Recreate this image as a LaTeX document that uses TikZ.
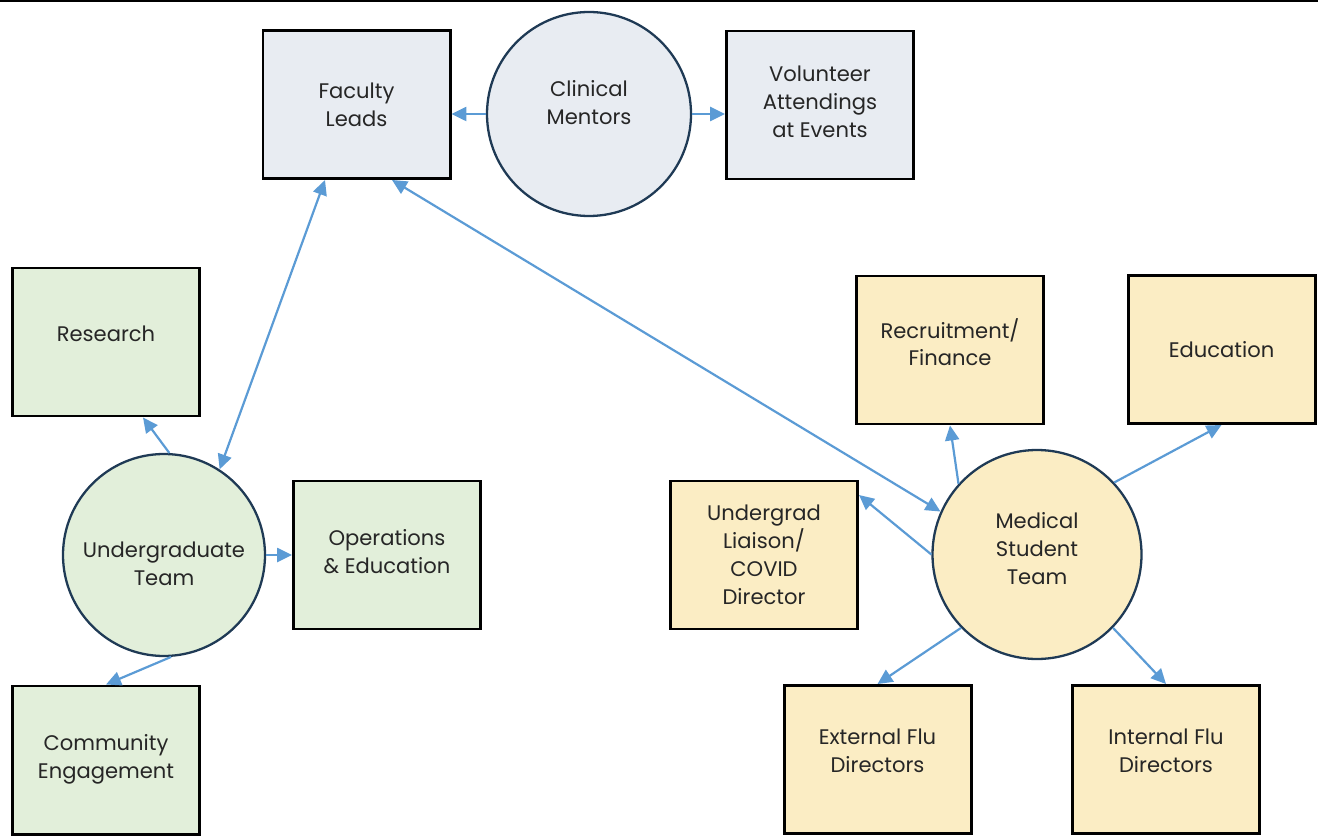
\documentclass[tikz,border=0pt]{standalone}
\usepackage{fontspec}
\setmainfont{Poppins}
\usetikzlibrary{arrows.meta}

\definecolor{linkblue}{HTML}{5B9BD5}
\definecolor{navy}{HTML}{1F3A55}
\definecolor{facgray}{HTML}{E8ECF2}
\definecolor{ugreen}{HTML}{E2EFDA}
\definecolor{medyellow}{HTML}{FBEDC4}

\begin{document}
\begin{tikzpicture}[font=\fontsize{12}{15.9}\selectfont]
% Define the node styles
\tikzstyle{unit} = [draw=black, line width=1.7pt, rectangle, minimum width=3.74cm, minimum height=2.96cm, align=center, text=black!85]
\tikzstyle{team} = [draw=navy, line width=1.3pt, circle, inner sep=0pt, align=center, text=black!85]
\tikzstyle{link} = [draw=linkblue, line width=1.25pt, -{Triangle[length=8.5pt,width=8pt]}]
\tikzstyle{both} = [link, {Triangle[length=8.5pt,width=8pt]}-{Triangle[length=8.5pt,width=8pt]}]

\useasboundingbox (0,0) rectangle (26.36,-16.72);
\draw[line width=1.2pt] (0,-0.02) -- (26.36,-0.02);

% Define the nodes
\node[unit, fill=facgray] (FL) at (7.13,-2.09) {Faculty\\Leads};
\node[team, fill=facgray, minimum size=4.08cm] (CM) at (11.78,-2.28) {Clinical\\Mentors\\[-2.3pt]};
\node[unit, fill=facgray] (VA) at (16.40,-2.10) {Volunteer\\Attendings\\at Events\\[-12.3pt]};

\node[unit, fill=ugreen] (RS) at (2.12,-6.84) {Research\\[-6.9pt]};
\node[team, fill=ugreen, minimum size=4.04cm] (UT) at (3.28,-11.10) {\rule{0pt}{19pt}Undergraduate\\Team};
\node[unit, fill=ugreen] (OE) at (7.74,-11.10) {Operations\\\& Education\\[-12.3pt]};
\node[unit, fill=ugreen] (CE) at (2.12,-15.20) {Community\\Engagement\\[-12.3pt]};

\node[unit, fill=medyellow] (RF) at (19.00,-7.00) {Recruitment/\\Finance\\[-6.9pt]};
\node[unit, fill=medyellow] (ED) at (24.43,-6.99) {Education};
\node[unit, fill=medyellow] (UL) at (15.28,-11.10) {Undergrad\\Liaison/\\COVID\\Director};
\node[team, fill=medyellow, minimum size=4.18cm] (MS) at (20.74,-11.09) {Medical\\Student\\Team\\[-9.1pt]};
\node[unit, fill=medyellow] (EF) at (17.55,-15.19) {External Flu\\Directors\\[-6.3pt]};
\node[unit, fill=medyellow] (IF) at (23.32,-15.19) {Internal Flu\\Directors\\[-6.3pt]};

% Define the transitions
\draw[link] (CM.west) -- (CM.west -| FL.east);
\draw[link] (CM.east) -- (CM.east -| VA.west);

\draw[both] ([xshift=-0.63cm]FL.south) -- (UT.57);
\draw[both] ([xshift=0.71cm]FL.south) -- (MS.156);

\draw[link] (UT.87) -- ([xshift=0.74cm]RS.south);
\draw[link] (UT.east) -- (OE.west);
\draw[link] (UT.-86) -- (CE.north);

\draw[link] (MS.138) -- (RF.south);
\draw[link] (MS.43) -- (ED.south);
\draw[link] (MS.west) -- ([yshift=1.2cm]UL.east);
\draw[link] (MS.-136) -- (EF.north);
\draw[link] (MS.-44) -- (IF.north);

\end{tikzpicture}
\end{document}
